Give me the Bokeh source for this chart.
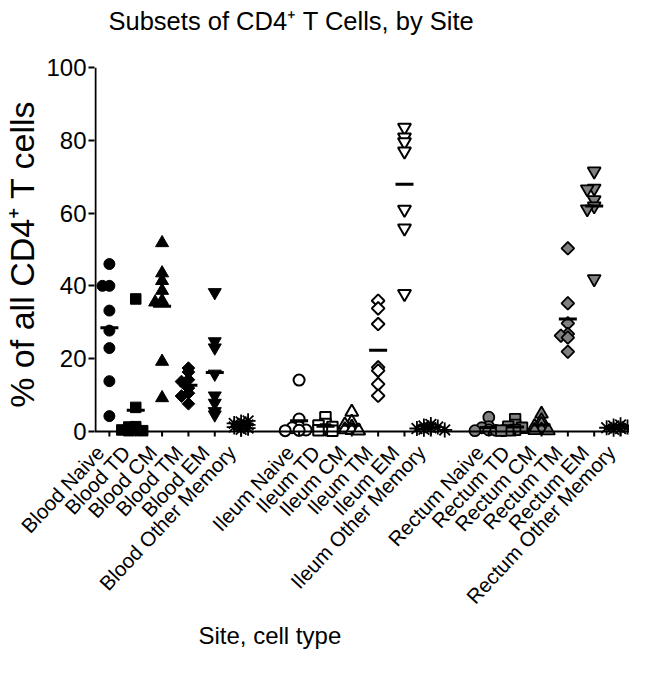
import math
from bokeh.plotting import figure
from bokeh.models import FixedTicker, Span, Title, Range1d
from bokeh.embed import file_html
from bokeh.resources import INLINE

# ---------------- data ----------------
sites = ["Blood", "Ileum", "Rectum"]
cell_types = ["Naive", "TD", "CM", "TM", "EM", "Other Memory"]

blood_naive = [46.0, 40.0, 40.0, 33.2, 27.7, 22.9, 13.8, 4.2]
blood_td = [36.4, 6.6, 1.3, 1.2, 0.3, 0.2, 0.2, 0.4]
blood_cm = [51.8, 43.5, 41.4, 38.7, 35.9, 35.5, 19.2, 9.2]
blood_tm = [17.4, 16.3, 14.2, 13.7, 11.9, 10.5, 9.7, 7.6]
blood_em = [38.2, 24.7, 23.0, 15.8, 9.8, 7.8, 5.5, 4.6]
blood_other = [2.6, 2.2, 1.8, 1.5, 1.2, 0.9, 2.9, 0.6]

ileum_naive = [14.1, 3.4, 1.2, 1.0, 0.4, 0.3, 0.2]
ileum_td = [3.9, 2.0, 1.6, 1.2, 0.5, 0.3, 0.2]
ileum_cm = [5.3, 2.6, 1.8, 1.2, 0.5, 0.3, 0.2]
ileum_tm = [35.9, 33.8, 29.5, 17.6, 16.7, 13.0, 9.8]
ileum_em = [83.5, 80.8, 79.5, 77.0, 61.0, 55.8, 37.8]
ileum_other = [1.9, 1.5, 1.2, 1.0, 0.8, 0.6, 0.4]

rectum_naive = [3.9, 1.3, 1.0, 0.4, 0.3, 0.2, 0.2]
rectum_td = [3.4, 1.8, 1.3, 1.0, 0.4, 0.3, 0.2]
rectum_cm = [4.8, 3.0, 2.0, 1.4, 0.5, 0.3, 0.2]
rectum_tm = [50.3, 35.2, 29.7, 26.8, 26.3, 25.8, 21.9]
rectum_em = [71.5, 66.8, 66.6, 63.6, 61.9, 61.1, 41.9]
rectum_other = [1.8, 1.5, 1.2, 1.0, 0.8, 0.6, 0.4]

y_ticks = [0, 20, 40, 60, 80, 100]

data = {
    "Blood": [blood_naive, blood_td, blood_cm, blood_tm, blood_em, blood_other],
    "Ileum": [ileum_naive, ileum_td, ileum_cm, ileum_tm, ileum_em, ileum_other],
    "Rectum": [rectum_naive, rectum_td, rectum_cm, rectum_tm, rectum_em, rectum_other],
}

# ---------------- layout ----------------
FONT = "Liberation Sans"
SPACING = 10          # x units between neighbouring columns
GROUP_START = {"Blood": 0, "Ileum": 72, "Rectum": 144}
X0, X1 = -5.65, 197.4
Y0, Y1 = -2.5, 100
PX_X = 2.655  # approx px per x unit (used for the swarm spacing)
PX_Y = 3.64   # approx px per y unit

markers = ["circle", "square", "triangle", "square", "inverted_triangle", "asterisk"]
sizes = [11, 10.5, 13, 9, 13, 15]
angles = [0, 0, 0, math.pi / 4, 0, 0]
fills = {"Blood": "black", "Ileum": "white", "Rectum": "#808080"}
line_w = {"Blood": 1.0, "Ileum": 2.0, "Rectum": 1.8}


def swarm(vals, step_px=7.0, min_x=7.0, min_y=3.0):
    placed, offs = [], []
    for v in vals:
        cands = [0.0]
        for k in range(1, 12):
            cands += [-k * step_px, k * step_px]
        for dx in cands:
            if all(abs(dx - qx) >= min_x or abs(v - qv) * PX_Y >= min_y for qx, qv in placed):
                break
        placed.append((dx, v))
        offs.append(dx / PX_X)
    return offs


p = figure(width=629, height=657, output_backend="svg", toolbar_location=None,
           x_range=Range1d(X0, X1), y_range=Range1d(Y0, Y1),
           min_border_left=90, min_border_right=0, min_border_top=67, min_border_bottom=217)

p.title = None
# spacer (closest to the frame) then the real title above it
p.add_layout(Title(text="\u00a0", text_font_size="26px", text_font=FONT, standoff=0), "above")
p.add_layout(Title(text="Subsets of CD4\u207a T Cells, by Site", align="left", offset=14,
                   text_font_size="25.5px", text_font=FONT, text_font_style="normal",
                   text_color="black", standoff=2), "above")

p.grid.visible = False
p.outline_line_color = None
p.background_fill_color = "white"
p.border_fill_color = "white"

tick_pos = []
tick_lab = {}
for site in sites:
    for ti, ct in enumerate(cell_types):
        xc = GROUP_START[site] + ti * SPACING
        tick_pos.append(xc)
        tick_lab[xc] = f"{site} {ct}"
        vals = data[site][ti]
        offs = swarm(vals)
        xs = [xc + o for o in offs]
        if markers[ti] == "asterisk":
            p.scatter(xs, vals, marker="asterisk", size=sizes[ti], line_color="black",
                      line_width=1.8)
        else:
            p.scatter(xs, vals, marker=markers[ti], size=sizes[ti], angle=angles[ti],
                      fill_color=fills[site], line_color="black", line_width=line_w[site])
        mean = sum(vals) / len(vals)
        p.scatter([xc], [mean], marker="dash", size=18, line_color="black", line_width=3)

# x axis line at y = 0 and the short category ticks below it
p.add_layout(Span(location=0, dimension="width", line_color="black", line_width=2))
p.segment(x0=tick_pos, y0=[0] * len(tick_pos), x1=tick_pos, y1=[-1.4] * len(tick_pos),
          line_color="black", line_width=2)
# y axis line from 0 to 100
yl = X0 + 1.0 / PX_X
p.segment(x0=[yl], y0=[0], x1=[yl], y1=[100], line_color="black", line_width=2)

# y axis
p.yaxis.ticker = FixedTicker(ticks=y_ticks)
p.yaxis.axis_line_color = None
p.yaxis.major_tick_line_width = 2
p.yaxis.major_tick_line_color = "black"
p.yaxis.major_tick_out = 6
p.yaxis.major_tick_in = 0
p.yaxis.minor_tick_line_color = None
p.yaxis.major_label_text_font_size = "24px"
p.yaxis.major_label_text_font = FONT
p.yaxis.major_label_text_color = "black"
p.yaxis.major_label_standoff = 2
p.yaxis.axis_label = "% of all CD4\u207a T cells"
p.yaxis.axis_label_text_font_size = "34px"
p.yaxis.axis_label_text_font = FONT
p.yaxis.axis_label_text_font_style = "normal"
p.yaxis.axis_label_text_color = "black"
p.yaxis.axis_label_standoff = 2

# x axis (labels only)
LABEL_SHIFT = -3.5
p.xaxis.ticker = FixedTicker(ticks=[t + LABEL_SHIFT for t in tick_pos])
p.xaxis.major_label_overrides = {t + LABEL_SHIFT: tick_lab[t] for t in tick_pos}
p.xaxis.axis_line_color = None
p.xaxis.major_tick_line_color = None
p.xaxis.major_tick_out = 0
p.xaxis.major_tick_in = 0
p.xaxis.minor_tick_line_color = None
p.xaxis.major_label_orientation = 47 * math.pi / 180
p.xaxis.major_label_text_font_size = "20.5px"
p.xaxis.major_label_text_font = FONT
p.xaxis.major_label_text_color = "black"
p.xaxis.major_label_standoff = 8

p.add_layout(Title(text="Site, cell type", align="left", offset=104,
                   text_font_size="24px", text_font=FONT, text_font_style="normal",
                   text_color="black", standoff=3), "below")

open("out.html", "w").write(file_html(p, INLINE))
